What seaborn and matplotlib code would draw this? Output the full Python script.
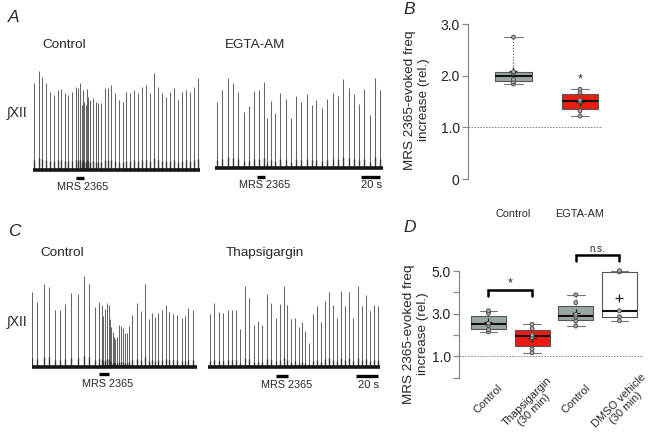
import numpy as np
import pandas as pd
import matplotlib
matplotlib.use("Agg")
import matplotlib.pyplot as plt
import seaborn as sns
from matplotlib.transforms import ScaledTranslation

sns.set_theme(style="white")
plt.rcParams["font.family"] = ["Liberation Sans", "DejaVu Sans"]

# ---------------- data ----------------
# Trace A1 (Control): burst times (s) and amplitudes (a.u.)
a1_times = [1, 6, 9.3, 13, 17, 20.7, 25.3, 28.3, 32, 35.3, 39.3, 43.3, 45.3, 46.7, 48.7, 50, 51.3,
            52.7, 54, 55.3, 57.3, 60, 63.3, 65.3, 68, 72, 75, 78.3, 82.3, 86, 90, 93.3, 97.3, 100.7,
            105, 109.3, 113, 117, 121.3, 125.3, 129.3, 133.3, 137.3, 141, 145, 148.7, 152.7, 156.7,
            161, 165.3]
a1_amps = [87, 99, 93, 87, 78, 75, 80, 81, 77, 75, 78, 83, 82, 87, 65, 80, 68, 65, 81, 73, 70, 72,
           68, 67, 67, 82, 82, 85, 77, 70, 68, 78, 77, 80, 77, 83, 85, 77, 97, 83, 77, 73, 78, 82,
           70, 78, 80, 78, 83, 92]
# Trace A2 (EGTA-AM)
a2_times = [1.7, 7.3, 12.7, 17.7, 23.3, 29, 34.3, 39.3, 44.3, 49, 52.3, 55.7, 60.3, 65, 70.7, 75.7,
            81, 86.3, 91.7, 96.7, 101, 107.3, 112.3, 117.7, 122.7, 128.3, 134.3, 139.3, 144.3,
            149.3, 155, 160.3, 165]
a2_amps = [66, 78, 90, 85, 76, 56, 62, 77, 78, 86, 50, 67, 55, 75, 69, 50, 72, 66, 74, 63, 68, 60,
           69, 75, 72, 89, 80, 74, 64, 79, 53, 90, 78]
# Trace C1 (Control)
c1_times = [0, 5.3, 12, 17.7, 23, 28, 33.7, 39.3, 46, 52.7, 57, 63.3, 67.7, 70, 71.7, 73.7, 75.3,
            77, 78.3, 79.7, 81, 82.3, 83.7, 85, 87, 89, 91, 93, 95, 97, 100.7, 105, 109.7, 113.3,
            117.3, 120, 123.3, 126.7, 130.3, 134, 137.7, 141.7, 145, 150, 153.3, 156.7, 161]
c1_amps = [75, 65, 83, 80, 57, 57, 63, 74, 73, 91, 83, 60, 65, 62, 51, 58, 64, 62, 48, 40, 35, 30,
           28, 30, 42, 41, 39, 34, 34, 41, 52, 64, 56, 83, 48, 54, 50, 54, 57, 62, 55, 53, 52, 49,
           51, 59, 57]
# Trace C2 (Thapsigargin)
c2_times = [1.7, 6, 10.3, 14.7, 19.3, 23.7, 28, 32, 36.3, 40.7, 45.3, 49.7, 54, 58.7, 62.7, 67.3,
            71.7, 75.7, 79, 82.3, 87, 90.7, 93.7, 97, 101, 104.7, 108.7, 112.7, 116.7, 120.7,
            124.7, 128.3, 132.7, 137, 141, 145, 149.3, 153.3, 157.3, 161.7, 165.7, 170]
c2_amps = [53, 64, 55, 54, 57, 57, 57, 38, 81, 69, 42, 46, 42, 73, 64, 49, 63, 81, 62, 48, 49, 40,
           45, 36, 24, 53, 61, 45, 66, 75, 62, 49, 76, 61, 75, 49, 81, 61, 72, 56, 62, 61]

# Box plot data (relative MRS 2365-evoked frequency increase)
b_groups = ["Control", "EGTA-AM"]
b_control = [1.84, 1.88, 1.93, 2.05, 2.08, 2.75]
b_egta = [1.22, 1.32, 1.50, 1.53, 1.68, 1.74]

d_groups = ["Control", "Thapsigargin\n(30 min)", "Control ", "DMSO vehicle\n(30 min)"]
d_labels = ["Control", "Thapsigargin\n(30 min)", "Control", "DMSO vehicle\n(30 min)"]
d_control1 = [2.14, 2.25, 2.45, 2.55, 3.02, 3.14]
d_thapsi = [1.17, 1.35, 1.88, 2.00, 2.30, 2.50]
d_control2 = [2.42, 2.65, 2.85, 2.97, 3.52, 3.89]
d_dmso = [2.67, 2.86, 3.14, 4.96, 5.02]

GRAY = "#9aa7a2"
RED = "#ec1c12"
WHITE = "#ffffff"

# ---------------- figure ----------------
W, H = 658, 441
fig = plt.figure(figsize=(W / 100, H / 100), dpi=100)


def axes_px(x0, y0, x1, y1):
    return fig.add_axes([x0 / W, 1 - y1 / H, (x1 - x0) / W, (y1 - y0) / H])


def ftext(x, y, s, **kw):
    fig.text(x / W, 1 - y / H, s, **kw)


def draw_trace(x0, x1, base_y, times, amps, mrs, mrs_y, mrs_tc, scale=None):
    t_end = x1 - x0
    ax = axes_px(x0, base_y - 110, x1, base_y + 20)
    ax.set_xlim(0, t_end)
    ax.set_ylim(-20, 110)
    ax.axis("off")
    amps = np.asarray(amps, float)
    ax.vlines(times, 0, amps, color="#666666", lw=0.75)
    ax.vlines(times, 0, amps * 0.12, color="#3a3a3a", lw=1.0)
    ax.plot([0, t_end], [0, 0], color="#151515", lw=2.6, solid_capstyle="butt")
    ax.plot(mrs, [mrs_y, mrs_y], color="black", lw=2.4, solid_capstyle="butt", clip_on=False)
    ax.text(mrs_tc, -17.5, "MRS 2365", ha="center", va="center", fontsize=7.8, clip_on=False)
    if scale is not None:
        ax.plot(scale, [mrs_y, mrs_y], color="black", lw=2.4, solid_capstyle="butt", clip_on=False)
        ax.text(sum(scale) / 2 + 1, -17.5, "20 s", ha="center", va="center", fontsize=8,
                clip_on=False)
    return ax


draw_trace(33, 200, 170, a1_times, a1_amps, [43, 51.3], -7.7, 50)
draw_trace(215, 383, 168, a2_times, a2_amps, [42, 50], -9, 49.7, scale=[146, 165])
draw_trace(31.7, 197, 366.7, c1_times, c1_amps, [67.3, 77.7], -7.3, 75.6)
draw_trace(208.3, 380, 367.3, c2_times, c2_amps, [67.7, 80], -8.7, 78.4, scale=[147.7, 170])

# panel texts
for x, y, s in [(8, 18, "A"), (403, 10, "B"), (8, 231, "C"), (403, 228, "D")]:
    ftext(x, y, s, fontsize=12.5, style="italic", ha="left", va="center")
for x, y, s in [(42, 45, "Control"), (225, 45, "EGTA-AM"), (40, 253, "Control"),
                (226, 253, "Thapsigargin")]:
    ftext(x, y, s, fontsize=9.7, ha="left", va="center")
for y in (112, 321):
    ftext(7, y, "∫XII", fontsize=10, ha="left", va="center")

ylab = "MRS 2365-evoked freq\nincrease (rel.)"
ftext(417, 100, ylab, rotation=90, fontsize=9.7, ha="center", va="center",
      multialignment="center", linespacing=1.25)
ftext(416, 334, ylab, rotation=90, fontsize=9.7, ha="center", va="center",
      multialignment="center", linespacing=1.25)


def box_panel(ax, groups, values, colors, width):
    df = pd.DataFrame({
        "group": np.repeat(groups, [len(v) for v in values]),
        "value": np.concatenate(values),
    })
    pal = dict(zip(groups, colors))
    sns.boxplot(data=df, x="group", y="value", hue="group", palette=pal, order=groups,
                hue_order=groups, width=width, whis=(0, 100), showfliers=False,
                linecolor="#555555", linewidth=0.8, legend=False, ax=ax, saturation=1,
                showmeans=True,
                meanprops=dict(marker="+", markeredgecolor="#222222", markersize=5.5,
                               markeredgewidth=0.9),
                medianprops=dict(color="#111111", linewidth=1.5),
                whiskerprops=dict(linestyle=":", color="#555555"),
                capprops=dict(color="#777777"))
    sns.stripplot(data=df, x="group", y="value", hue="group", order=groups, hue_order=groups,
                  palette={g: "#aaaaaa" for g in groups}, jitter=False, size=2.8,
                  edgecolor="#444444", linewidth=0.6, legend=False, ax=ax)
    ax.set_xlabel("")
    ax.set_ylabel("")
    for s in ("top", "right", "bottom"):
        ax.spines[s].set_visible(False)
    ax.spines["left"].set_color("#888888")
    ax.spines["left"].set_linewidth(0.9)
    ax.tick_params(axis="y", direction="out", length=4, width=0.9, color="#888888",
                   labelsize=10, labelcolor="#222222", pad=2, left=True)
    ax.set_facecolor("none")


# ---- panel B ----
axB = axes_px(468, 21.6, 603, 181.6)
box_panel(axB, b_groups, [b_control, b_egta], [GRAY, RED], 0.55)
axB.set_xlim(-0.684, 1.346)
axB.set_ylim(-0.05, 3.05)
axB.spines["left"].set_bounds(0, 3)
axB.set_yticks([0, 1, 2, 3])
axB.set_yticklabels(["0", "1.0", "2.0", "3.0"])
axB.axhline(1.0, color="#777777", lw=0.6, ls=(0, (2, 1.5)), zorder=0)
axB.tick_params(axis="x", length=0, labelsize=7.8, pad=20)
axB.text(1, 1.92, "*", ha="center", va="center", fontsize=9)

# ---- panel D ----
axD = axes_px(459, 241.3, 643, 379.7)
box_panel(axD, d_groups, [d_control1, d_thapsi, d_control2, d_dmso], [GRAY, RED, GRAY, WHITE], 0.8)
axD.set_xlim(-0.675, 3.54)
axD.set_ylim(-0.1, 6.4)
axD.spines["left"].set_bounds(0, 5)
axD.set_yticks([0, 1, 2, 3, 4, 5])
axD.set_yticklabels(["", "1.0", "", "3.0", "", "5.0"])
axD.axhline(1.0, color="#777777", lw=0.6, ls=(0, (2, 1.5)), zorder=0)
axD.tick_params(axis="x", length=0, labelsize=8, pad=2)
axD.set_xticks(range(4))
axD.set_xticklabels(d_labels, rotation=45, ha="right", va="top", rotation_mode="anchor",
                    multialignment="center", linespacing=1.1)
label_offsets = [(9, 0), (14, -7), (10, 0), (21, -11)]
for lab, (dx, dy) in zip(axD.get_xticklabels(), label_offsets):
    lab.set_transform(lab.get_transform()
                      + ScaledTranslation(dx / 100, -dy / 100, fig.dpi_scale_trans))

for (xa, xb, yb, yt, txt, ty, fs) in [(0, 1, 4.1, 3.83, "*", 4.42, 9),
                                       (2, 3, 5.76, 5.49, "n.s.", 6.05, 7)]:
    axD.plot([xa, xa, xb, xb], [yt, yb, yb, yt], color="black", lw=1.8, clip_on=False,
             solid_joinstyle="miter")
    axD.text((xa + xb) / 2, ty, txt, ha="center", va="center", fontsize=fs, clip_on=False)

fig.savefig("out.png", dpi=100)
